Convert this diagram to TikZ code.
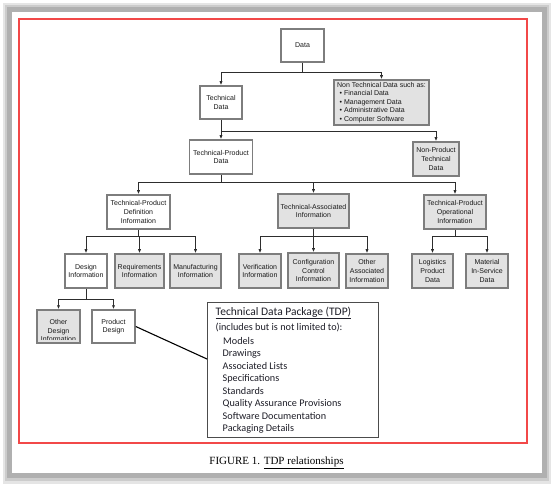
\documentclass[tikz,border=0pt]{standalone}
\usepackage{fontspec}
\setmainfont{Liberation Sans}
\newfontfamily\arialf{Liberation Sans}
\newfontfamily\calf{Carlito}
\newfontfamily\timesf{Liberation Serif}
\usetikzlibrary{arrows.meta,calc}
\definecolor{bordc}{RGB}{125,125,125}
\definecolor{fillc}{RGB}{226,226,226}
\definecolor{linec}{RGB}{45,45,45}
\definecolor{textc}{RGB}{25,25,25}
\definecolor{redc}{RGB}{242,72,72}
\definecolor{tdptext}{RGB}{30,30,40}
\tikzset{
  wbox/.style={draw=bordc, line width=1.5pt, fill=white, inner sep=0pt, align=center,
    font={\arialf\fontsize{7}{8.6}\selectfont}, text=textc},
  gbox/.style={wbox, fill=fillc},
  arr/.style={draw=linec, line width=0.8pt, -{Latex[length=4pt,width=3.2pt]}},
  ln/.style={draw=linec, line width=0.8pt},
}
\begin{document}
\begin{tikzpicture}[x=1pt,y=-1pt]
\useasboundingbox (0,0) rectangle (554,486);
% page and shadow
\fill[white] (0,0) rectangle (554,486);
\fill[gray!20] (3,3) rectangle (551,484);
\fill[gray!40] (5,5) rectangle (549,481);
\fill[gray!62] (7,7) rectangle (547,478);
\fill[white] (12,12) rectangle (542,473);
\draw[redc, line width=2pt] (19,19) rectangle (527,443);

% level 0-2
\node[wbox, minimum width=43pt, minimum height=33pt] (data) at (302.5,45.5) {Data};
\node[wbox, minimum width=42pt, minimum height=33pt] (techd) at (221,102.5) {Technical\\Data};
\node[gbox, minimum width=95pt, minimum height=45pt, align=left] (nontech) at (381.5,102.5)
  {Non Technical Data such as:\\
   \hspace*{2.5pt}\textbullet\hspace{2pt}Financial Data\\
   \hspace*{2.5pt}\textbullet\hspace{2pt}Management Data\\
   \hspace*{2.5pt}\textbullet\hspace{2pt}Administrative Data\\
   \hspace*{2.5pt}\textbullet\hspace{2pt}Computer Software};
\node[wbox, minimum width=63pt, minimum height=34pt] (tpd) at (221,157) {Technical-Product\\Data};
\node[gbox, minimum width=46pt, minimum height=34pt] (npt) at (436,159) {Non-Product\\Technical\\Data};

% level 3
\node[wbox, minimum width=63pt, minimum height=34pt] (tpdi) at (138.5,212) {Technical-Product\\Definition\\Information};
\node[gbox, minimum width=71pt, minimum height=34pt] (tai) at (313.5,211) {Technical-Associated\\Information};
\node[gbox, minimum width=62pt, minimum height=34pt] (tpoi) at (455,212) {Technical-Product\\Operational\\Information};

% level 4
\node[wbox, minimum width=42pt, minimum height=34pt] (di) at (86,271) {Design\\Information};
\node[gbox, minimum width=49pt, minimum height=34pt] (req) at (139.5,271) {Requirements\\Information};
\node[gbox, minimum width=51pt, minimum height=34pt] (man) at (195.5,271) {Manufacturing\\Information};
\node[gbox, minimum width=42pt, minimum height=34pt] (ver) at (260,271) {Verification\\Information};
\node[gbox, minimum width=51pt, minimum height=35pt] (conf) at (313.5,270.5) {Configuration\\Control\\Information};
\node[gbox, minimum width=42pt, minimum height=34pt] (oa) at (367,271) {Other\\Associated\\Information};
\node[gbox, minimum width=41pt, minimum height=34pt] (log) at (432.5,271) {Logistics\\Product\\Data};
\node[gbox, minimum width=42pt, minimum height=34pt] (mat) at (487,271) {Material\\In-Service\\Data};

% level 5
\node[gbox, minimum width=43pt, minimum height=33pt] (od) at (58.5,326.5) {};
\begin{scope}
  \clip (37,311) rectangle (80,339.2);
  \node[font={\arialf\fontsize{7}{8.8}\selectfont}, text=textc, align=center, inner sep=0pt] (odt) at (58.5,330.5) {Other\\Design\\Information};
\end{scope}
\node[gbox, fill=none, minimum width=43pt, minimum height=33pt] (odb) at (58.5,326.5) {};
\node[wbox, minimum width=43pt, minimum height=33pt] (pd) at (113.5,326.5) {Product\\Design};

% TDP box
\node[draw=black!70, line width=0.9pt, fill=white, minimum width=171pt, minimum height=135pt, inner sep=0pt] (tdp) at (292.5,369.5) {};
\node[anchor=north west, inner sep=0pt, align=left, text=tdptext,
      font={\calf\fontsize{10.2}{12.5}\selectfont}] (tdpt) at (215.5,306.5)
  {{\fontsize{11.5}{13}\selectfont\underline{Technical Data Package (TDP)}}\\[2.5pt]
   (includes but is not limited to):\\[1.5pt]
   \hspace*{7.5pt}Models\\
   \hspace*{7pt}Drawings\\
   \hspace*{7pt}Associated Lists\\
   \hspace*{7pt}Specifications\\
   \hspace*{7pt}Standards\\
   \hspace*{7pt}Quality Assurance Provisions\\
   \hspace*{7pt}Software Documentation\\
   \hspace*{7pt}Packaging Details};
\coordinate (tdpin) at (207,359);
\draw[black, line width=1.1pt] (pd.east) -- (tdpin);

% buses
\coordinate (b1) at (0,72);
\coordinate (b2) at (0,131);
\coordinate (b3) at (0,182);
\coordinate (b4) at (0,236);
\coordinate (b5) at (0,299);

\draw[ln] (data.south) -- (data.south |- b1);
\draw[arr] (data.south |- b1) -| (techd.north);
\draw[arr] (data.south |- b1) -| (nontech.north);

\draw[ln] (techd.south) -- (techd.south |- b2);
\draw[arr] (techd.south |- b2) -| (tpd.north);
\draw[arr] (techd.south |- b2) -| (npt.north);

\draw[ln] (tpd.south) -- (tpd.south |- b3);
\draw[arr] (tpd.south |- b3) -| (tpdi.north);
\draw[arr] (tpd.south |- b3) -| (tai.north);
\draw[arr] (tpd.south |- b3) -| (tpoi.north);

\draw[ln] (tpdi.south) -- (tpdi.south |- b4);
\draw[arr] (tpdi.south |- b4) -| (di.north);
\draw[arr] (tpdi.south |- b4) -| (req.north);
\draw[arr] (tpdi.south |- b4) -| (man.north);

\draw[ln] (tai.south) -- (tai.south |- b4);
\draw[arr] (tai.south |- b4) -| (ver.north);
\draw[arr] (tai.south |- b4) -| (conf.north);
\draw[arr] (tai.south |- b4) -| (oa.north);

\draw[ln] (tpoi.south) -- (tpoi.south |- b4);
\draw[arr] (tpoi.south |- b4) -| (log.north);
\draw[arr] (tpoi.south |- b4) -| (mat.north);

\draw[ln] (di.south) -- (di.south |- b5);
\draw[arr] (di.south |- b5) -| (odb.north);
\draw[arr] (di.south |- b5) -| (pd.north);

% caption
\node[font={\timesf\fontsize{11}{13}\selectfont}, text=black, inner sep=0pt] (cap) at (276.5,463) {FIGURE 1. \underline{TDP relationships}};
\end{tikzpicture}
\end{document}
